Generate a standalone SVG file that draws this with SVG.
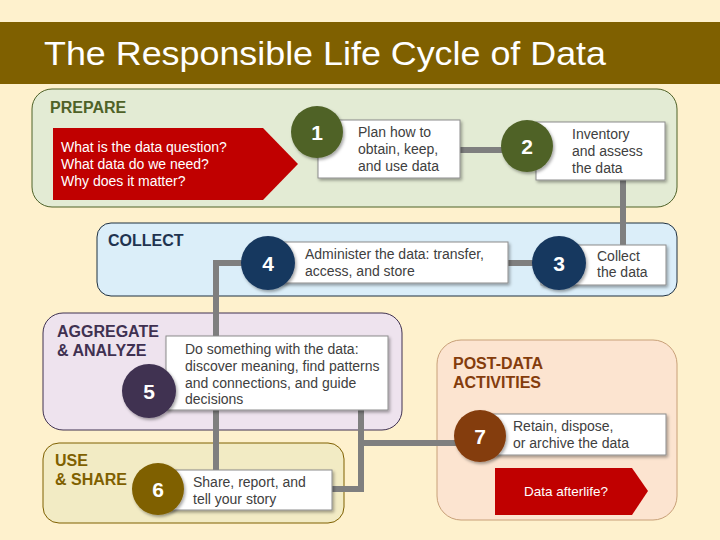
<svg xmlns="http://www.w3.org/2000/svg" width="720" height="540" viewBox="0 0 720 540">
<defs>
<filter id="sh" x="-20%" y="-20%" width="150%" height="150%">
<feDropShadow dx="1.5" dy="2" stdDeviation="1.5" flood-color="#000" flood-opacity="0.35"/>
</filter>
<style>
text{font-family:"Liberation Sans",Arial,sans-serif}
.title{font-size:34px;fill:#fff}
.lab{font-size:16px;font-weight:bold}
.box{fill:#fff;stroke:#8c8c8c;stroke-width:1;filter:url(#sh)}
.bt{font-size:14px;fill:#404040}
.num{font-size:21px;font-weight:bold;fill:#fff;text-anchor:middle}
.circ{filter:url(#sh)}
.con{fill:none;stroke:#7f7f7f;stroke-width:6;stroke-linejoin:miter}
.red{fill:#c00000}
.rt{font-size:14px;fill:#fff}
</style>
</defs>
<rect x="0" y="0" width="720" height="540" fill="#fef1cd"/>
<rect x="0" y="22" width="720" height="62" fill="#7f6000"/>
<text class="title" x="44" y="65" textLength="562" lengthAdjust="spacingAndGlyphs">The Responsible Life Cycle of Data</text>

<g id="panel-prepare">
<rect x="32" y="89" width="645" height="118" rx="20" fill="#e3ebd4" stroke="#4f6228"/>
<text class="lab" x="50" y="113" fill="#4f6228">PREPARE</text>
<polygon class="red" points="53,128 263,128 298,164 263,200 53,200"/>
<text class="rt" x="61" y="152">What is the data question?</text>
<text class="rt" x="61" y="169">What data do we need?</text>
<text class="rt" x="61" y="186">Why does it matter?</text>
</g>
<g id="panel-collect">
<rect x="97" y="223" width="580" height="73" rx="14" fill="#dbeef9" stroke="#1f3040"/>
<text class="lab" x="108" y="246" fill="#1f3350">COLLECT</text>
</g>
<g id="panel-aggregate">
<rect x="43" y="313" width="359" height="117" rx="20" fill="#eee3ee" stroke="#3f3151"/>
<text class="lab" x="57" y="337" fill="#3f3151">AGGREGATE</text>
<text class="lab" x="57" y="356" fill="#3f3151">&amp; ANALYZE</text>
</g>
<g id="panel-use">
<rect x="43" y="443" width="301" height="80" rx="16" fill="#f2ebc4" stroke="#7f6000"/>
<text class="lab" x="55" y="466" fill="#7f6000">USE</text>
<text class="lab" x="55" y="485" fill="#7f6000">&amp; SHARE</text>
</g>
<g id="panel-post">
<rect x="437" y="340" width="240" height="180" rx="24" fill="#fce4d0" stroke="#c8a078"/>
<text class="lab" x="453" y="369" fill="#843c0c">POST-DATA</text>
<text class="lab" x="453" y="388" fill="#843c0c">ACTIVITIES</text>
<polygon class="red" points="495,468 632,468 648,491 632,515 495,515"/>
<text class="rt" x="566" y="496" text-anchor="middle" style="font-size:13.5px">Data afterlife?</text>
</g>

<g id="connectors">
<path class="con" d="M460,150 H505"/>
<path class="con" d="M623,180 V245"/>
<path class="con" d="M508,263 H535"/>
<path class="con" d="M243,263 H216 V336"/>
<path class="con" d="M216,410 V470"/>
<path class="con" d="M361,410 V489 H332"/>
<path class="con" d="M361,443 H458"/>
</g>

<g id="step1">
<rect class="box" x="318" y="120" width="142" height="58"/>
<text class="bt" x="358" y="137">Plan how to</text>
<text class="bt" x="358" y="154">obtain, keep,</text>
<text class="bt" x="358" y="171">and use data</text>
<circle class="circ" cx="317" cy="132" r="26" fill="#4f6228"/>
<text class="num" x="317" y="140">1</text>
</g>
<g id="step2">
<rect class="box" x="536" y="122" width="129" height="58"/>
<text class="bt" x="572" y="139">Inventory</text>
<text class="bt" x="572" y="156">and assess</text>
<text class="bt" x="572" y="173">the data</text>
<circle class="circ" cx="527" cy="146" r="26" fill="#4f6228"/>
<text class="num" x="527" y="154">2</text>
</g>
<g id="step3">
<rect class="box" x="541" y="245" width="125" height="40"/>
<text class="bt" x="597" y="261">Collect</text>
<text class="bt" x="597" y="277">the data</text>
<circle class="circ" cx="559" cy="263" r="27" fill="#17375e"/>
<text class="num" x="559" y="271">3</text>
</g>
<g id="step4">
<rect class="box" x="265" y="242" width="243" height="41"/>
<text class="bt" x="305" y="259">Administer the data: transfer,</text>
<text class="bt" x="305" y="276">access, and store</text>
<circle class="circ" cx="268" cy="263" r="27" fill="#17375e"/>
<text class="num" x="268" y="271">4</text>
</g>
<g id="step5">
<rect class="box" x="166" y="336" width="222" height="74"/>
<text class="bt" x="185" y="354">Do something with the data:</text>
<text class="bt" x="185" y="371">discover meaning, find patterns</text>
<text class="bt" x="185" y="388">and connections, and guide</text>
<text class="bt" x="185" y="404">decisions</text>
<circle class="circ" cx="149" cy="391" r="27" fill="#3f3151"/>
<text class="num" x="149" y="399">5</text>
</g>
<g id="step6">
<rect class="box" x="160" y="470" width="172" height="40"/>
<text class="bt" x="193" y="487">Share, report, and</text>
<text class="bt" x="193" y="504">tell your story</text>
<circle class="circ" cx="158" cy="489" r="26" fill="#7f6000"/>
<text class="num" x="158" y="497">6</text>
</g>
<g id="step7">
<rect class="box" x="480" y="414" width="186" height="41"/>
<text class="bt" x="513" y="431">Retain, dispose,</text>
<text class="bt" x="513" y="448">or archive the data</text>
<circle class="circ" cx="480" cy="436" r="26" fill="#843c0c"/>
<text class="num" x="480" y="444">7</text>
</g>
</svg>
